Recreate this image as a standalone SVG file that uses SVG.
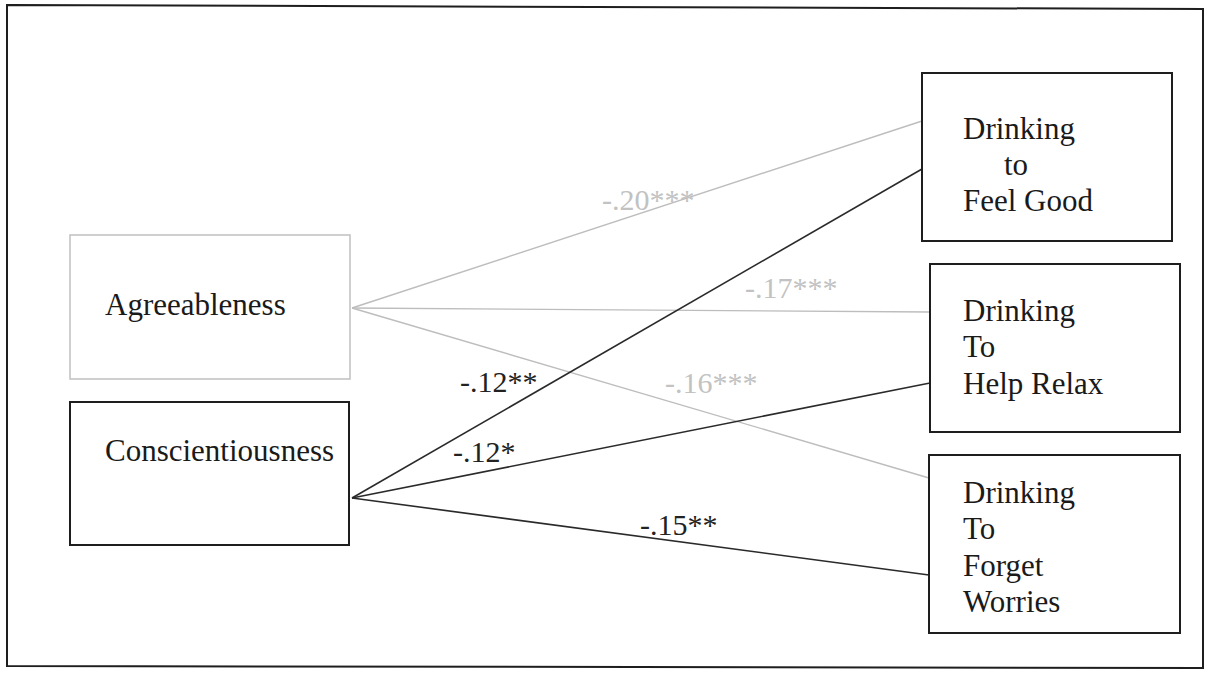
<svg xmlns="http://www.w3.org/2000/svg" width="1211" height="675" viewBox="0 0 1211 675">
<style>
.frame{fill:none;stroke:#1e1e1e;stroke-width:2}
.box{fill:#fff;stroke:#1e1e1e;stroke-width:2}
.boxg{fill:#fff;stroke:#c4c4c4;stroke-width:1.6}
.t{font-family:"Liberation Serif","Times New Roman",serif;font-size:31px;fill:#1a1a1a}
.lab{font-family:"Liberation Serif","Times New Roman",serif;font-size:30px;fill:#222}
.labg{font-family:"Liberation Serif","Times New Roman",serif;font-size:30px;fill:#c2c2c2}
.ld{stroke:#2a2a2a;stroke-width:1.6;fill:none}
.lg{stroke:#bdbdbd;stroke-width:1.4;fill:none}
</style>
<rect width="1211" height="675" fill="#fff"/>
<path class="frame" d="M7,5 L1203,9 L1203,668 L7,666 Z"/>

<g id="connectors">
<line class="lg" x1="352" y1="308" x2="922" y2="121"/>
<line class="lg" x1="352" y1="308" x2="930" y2="312"/>
<line class="lg" x1="352" y1="308" x2="929" y2="478"/>
<line class="ld" x1="352" y1="498" x2="922" y2="169"/>
<line class="ld" x1="352" y1="498" x2="930" y2="383"/>
<line class="ld" x1="352" y1="498" x2="929" y2="575"/>
<text class="labg" x="602" y="210">-.20***</text>
<text class="labg" x="745" y="298">-.17***</text>
<text class="labg" x="665" y="393">-.16***</text>
<text class="lab" x="460" y="392">-.12**</text>
<text class="lab" x="453" y="462">-.12*</text>
<text class="lab" x="640" y="535">-.15**</text>
</g>

<g id="agreeableness">
<rect class="boxg" x="70" y="235" width="280" height="144"/>
<text class="t" x="105" y="315">Agreeableness</text>
</g>

<g id="conscientiousness">
<rect class="box" x="70" y="402" width="279" height="143"/>
<text class="t" x="105" y="461">Conscientiousness</text>
</g>

<g id="feel-good">
<rect class="box" x="922" y="73" width="250" height="168"/>
<text class="t" x="963" y="139">Drinking</text>
<text class="t" x="1004" y="175">to</text>
<text class="t" x="963" y="211">Feel Good</text>
</g>

<g id="help-relax">
<rect class="box" x="930" y="264" width="250" height="168"/>
<text class="t" x="963" y="321">Drinking</text>
<text class="t" x="963" y="357">To</text>
<text class="t" x="963" y="394">Help Relax</text>
</g>

<g id="forget-worries">
<rect class="box" x="929" y="455" width="251" height="178"/>
<text class="t" x="963" y="503">Drinking</text>
<text class="t" x="963" y="539">To</text>
<text class="t" x="963" y="576">Forget</text>
<text class="t" x="963" y="612">Worries</text>
</g>
</svg>
